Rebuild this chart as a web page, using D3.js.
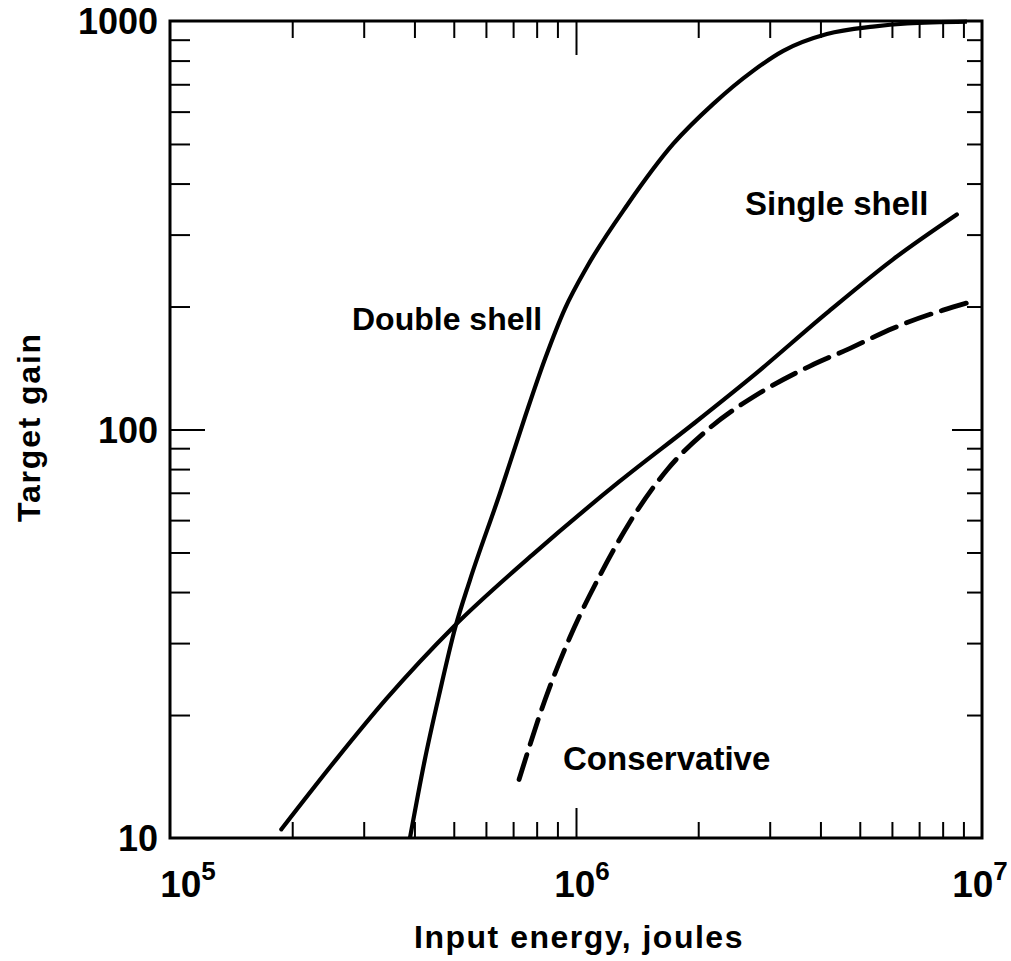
<!DOCTYPE html>
<html>
<head>
<meta charset="utf-8">
<script src="https://cdn.jsdelivr.net/npm/d3@7"></script>
<style>
  body { margin: 0; background: #fff; }
  text { font-family: "Liberation Sans", Arial, sans-serif; font-weight: bold; fill: #000; }
</style>
</head>
<body>
<div id="chart"></div>
<script>
// values
var singleShellE = [1.88e5, 2.57e5, 3.41e5, 5.01e5, 7.82e5, 1.28e6, 1.94e6, 2.72e6, 4.15e6, 6.04e6, 8.67e6];
var singleShellG = [10.5, 15.6, 21.9, 33.0, 49.4, 74.6, 103, 134.9, 193, 261, 336];

var doubleShellE = [3.90e5, 4.24e5, 4.62e5, 5.04e5, 5.48e5, 6.50e5, 7.48e5, 8.39e5, 9.40e5, 1.064e6, 1.336e6, 1.735e6, 2.175e6, 2.73e6, 3.24e6, 4.15e6, 5.39e6, 6.54e6, 9.18e6];
var doubleShellG = [10, 15.5, 22.8, 32.7, 42.8, 69.9, 107, 149, 198, 250, 354, 500, 626, 755, 845, 929, 969, 986, 996];

var conservativeE = [7.24e5, 8.39e5, 9.66e5, 1.146e6, 1.358e6, 1.675e6, 2.138e6, 2.84e6, 3.77e6, 4.73e6, 6.04e6, 8.02e6, 9.50e6];
var conservativeG = [13.9, 21.8, 31.0, 44.0, 59.4, 79.6, 101, 123, 143, 158, 177, 196, 206];

var xMinorTicks = [2e5, 3e5, 4e5, 5e5, 6e5, 7e5, 8e5, 9e5, 2e6, 3e6, 4e6, 5e6, 6e6, 7e6, 8e6, 9e6];
var xMajorTicks = [1e6];
var yMinorTicks = [20, 30, 40, 50, 60, 70, 80, 90, 200, 300, 400, 500, 600, 700, 800, 900];
var yMajorTicks = [100];

var xLabelValues = [1e5, 1e6, 1e7];
var xLabelExps = ["5", "6", "7"];
var yLabelValues = [10, 100, 1000];

var W = 1011, H = 961;
var pLeft = 170, pRight = 982, pTop = 21, pBottom = 838;

var svg = d3.select("#chart").append("svg")
    .attr("width", W)
    .attr("height", H);

var x = d3.scaleLog().domain([1e5, 1e7]).range([pLeft, pRight]);
var y = d3.scaleLog().domain([10, 1000]).range([pBottom, pTop]);

function pairs(xs, ys) {
  return xs.map(function (d, i) { return [d, ys[i]]; });
}

// inward ticks on all four sides
function addAxis(axis, values, size, tx, ty) {
  var g = svg.append("g")
      .attr("transform", "translate(" + tx + "," + ty + ")")
      .call(axis.tickValues(values).tickSize(size).tickFormat(""));
  g.select(".domain").remove();
  g.selectAll(".tick line").attr("stroke", "#000").attr("stroke-width", 2);
}
addAxis(d3.axisBottom(x), xMinorTicks, -16, 0, pBottom);
addAxis(d3.axisBottom(x), xMajorTicks, -30, 0, pBottom);
addAxis(d3.axisTop(x), xMinorTicks, -17, 0, pTop);
addAxis(d3.axisTop(x), xMajorTicks, -34, 0, pTop);
addAxis(d3.axisLeft(y), yMinorTicks, -20, pLeft, 0);
addAxis(d3.axisLeft(y), yMajorTicks, -35, pLeft, 0);
addAxis(d3.axisRight(y), yMinorTicks, -15, pRight, 0);
addAxis(d3.axisRight(y), yMajorTicks, -30, pRight, 0);

// frame
svg.append("rect")
    .attr("x", pLeft).attr("y", pTop)
    .attr("width", pRight - pLeft).attr("height", pBottom - pTop)
    .attr("fill", "none").attr("stroke", "#000").attr("stroke-width", 3);

svg.append("clipPath").attr("id", "plot")
  .append("rect")
    .attr("x", pLeft).attr("y", pTop - 2)
    .attr("width", pRight - pLeft).attr("height", pBottom - pTop + 2);

var line = d3.line()
    .x(function (d) { return x(d[0]); })
    .y(function (d) { return y(d[1]); })
    .curve(d3.curveMonotoneX);

var curves = svg.append("g").attr("clip-path", "url(#plot)");

curves.append("path")
    .datum(pairs(singleShellE, singleShellG))
    .attr("d", line)
    .attr("fill", "none").attr("stroke", "#000")
    .attr("stroke-width", 4.2).attr("stroke-linecap", "round");

curves.append("path")
    .datum(pairs(doubleShellE, doubleShellG))
    .attr("d", line)
    .attr("fill", "none").attr("stroke", "#000")
    .attr("stroke-width", 4.2);

curves.append("path")
    .datum(pairs(conservativeE, conservativeG))
    .attr("d", line)
    .attr("fill", "none").attr("stroke", "#000")
    .attr("stroke-width", 4.8)
    .attr("stroke-dasharray", "26,11")
    .attr("stroke-linecap", "round");

// curve labels
svg.append("text").attr("x", 352).attr("y", 330).style("font-size", "32px").text("Double shell");
svg.append("text").attr("x", 745).attr("y", 215).style("font-size", "33px").text("Single shell");
svg.append("text").attr("x", 563).attr("y", 770).style("font-size", "33px").text("Conservative");

// y tick labels
svg.selectAll(".ylab")
  .data(yLabelValues)
  .enter().append("text")
    .attr("class", "ylab")
    .attr("x", 158)
    .attr("y", function (d) { return y(d) + 13; })
    .attr("text-anchor", "end")
    .style("font-size", "36px")
    .text(function (d) { return d; });

// x tick labels with exponent
var xOffsets = [18, 6, -2];
var xl = svg.selectAll(".xlab")
  .data(xLabelValues)
  .enter().append("text")
    .attr("class", "xlab")
    .attr("x", function (d, i) { return x(d) + xOffsets[i]; })
    .attr("y", 897)
    .attr("text-anchor", "middle")
    .style("font-size", "37px");
xl.append("tspan").text("10");
xl.append("tspan")
    .attr("dy", -17)
    .style("font-size", "26px")
    .text(function (d, i) { return xLabelExps[i]; });

// axis titles
svg.append("text")
    .attr("x", 579).attr("y", 948)
    .attr("text-anchor", "middle")
    .style("font-size", "32px")
    .style("letter-spacing", "1.5px")
    .text("Input energy, joules");

svg.append("text")
    .attr("transform", "translate(40,427) rotate(-90)")
    .attr("text-anchor", "middle")
    .style("font-size", "32px")
    .style("letter-spacing", "1.8px")
    .text("Target gain");
</script>
</body>
</html>
